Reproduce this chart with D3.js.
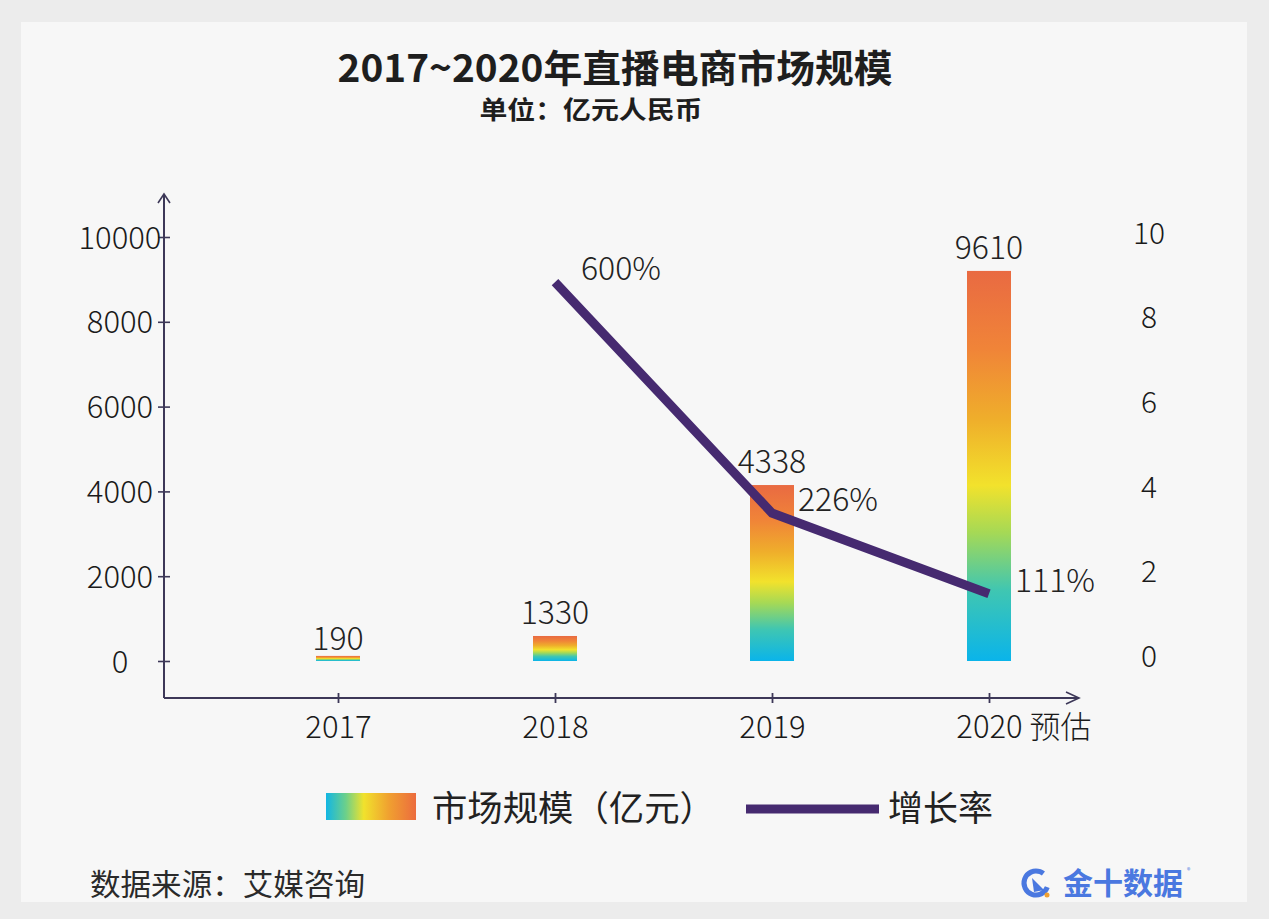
<!DOCTYPE html>
<html>
<head>
<meta charset="utf-8">
<script src="https://cdn.jsdelivr.net/npm/d3@7"></script>
<style>
  html, body { margin: 0; padding: 0; background: #ececec; }
  svg { display: block; }
  text { font-family: "Noto Sans CJK SC", "Noto Sans", sans-serif; }
</style>
</head>
<body>
<svg id="chart" width="1269" height="919"></svg>
<script>
// ---- data ----
const categories = ["2017", "2018", "2019", "2020 预估"];
const marketSizeLabels = ["190", "1330", "4338", "9610"];      // printed values (亿元)
const marketSizeDrawn = [120, 590, 4150, 9200];                  // bar heights as drawn in the picture
const growthLabels = [null, "600%", "226%", "111%"];
const growthDrawn = [null, 8.84, 3.38, 1.47];                    // line points on right axis as drawn
const leftTicks = [0, 2000, 4000, 6000, 8000, 10000];
const rightTicks = [0, 2, 4, 6, 8, 10];
const title = "2017~2020年直播电商市场规模";
const subtitle = "单位：亿元人民币";
const legendLabels = ["市场规模（亿元）", "增长率"];
const sourceText = "数据来源：艾媒咨询";
const logoText = "金十数据";

// ---- setup ----
const svg = d3.select("#chart");
const axisColor = "#3d3858";
const lineColor = "#462a70";
const textColor = "#222";

svg.append("rect").attr("x", 0).attr("y", 0).attr("width", 1269).attr("height", 919).attr("fill", "#ececec");
svg.append("rect").attr("x", 21).attr("y", 22).attr("width", 1226).attr("height", 880).attr("fill", "#f7f7f7");

const defs = svg.append("defs");
const barGrad = defs.append("linearGradient").attr("id", "barGrad")
  .attr("x1", 0).attr("y1", 1).attr("x2", 0).attr("y2", 0);
[["0%", "#0ab4ea"], ["18%", "#3fc6b2"], ["33%", "#a6d955"], ["45%", "#f2e22c"],
 ["62%", "#efae2b"], ["80%", "#f08438"], ["100%", "#e96a42"]].forEach(([o, c]) =>
  barGrad.append("stop").attr("offset", o).attr("stop-color", c));
const legGrad = defs.append("linearGradient").attr("id", "legGrad")
  .attr("x1", 0).attr("y1", 0).attr("x2", 1).attr("y2", 0);
[["0%", "#12b6e4"], ["22%", "#6cd08a"], ["42%", "#f1e22c"], ["70%", "#f0a030"], ["100%", "#ec6c3e"]].forEach(([o, c]) =>
  legGrad.append("stop").attr("offset", o).attr("stop-color", c));

// ---- scales ----
const x = d3.scalePoint().domain(categories).range([338, 989]);
const yL = d3.scaleLinear().domain([0, 10000]).range([661, 237]);
const yR = d3.scaleLinear().domain([0, 10]).range([656, 233]);
const axisX0 = 164, axisY0 = 698;
const barW = 44;

// ---- title ----
svg.append("text").attr("x", 615).attr("y", 82).attr("text-anchor", "middle")
  .attr("font-size", 38).attr("font-weight", 700).attr("fill", "#1e1e1e")
  .attr("textLength", 555).attr("lengthAdjust", "spacingAndGlyphs").text(title);
svg.append("text").attr("x", 591).attr("y", 119).attr("text-anchor", "middle")
  .attr("font-size", 25).attr("font-weight", 700).attr("fill", "#1e1e1e")
  .attr("textLength", 223).attr("lengthAdjust", "spacingAndGlyphs").text(subtitle);

// ---- left axis ----
const gL = svg.append("g").attr("transform", `translate(${axisX0},0)`)
  .call(d3.axisLeft(yL).tickValues(leftTicks).tickSize(6).tickSizeOuter(0).tickFormat(d3.format("d")));
gL.select(".domain").remove();
gL.selectAll(".tick line").attr("x1", -6).attr("x2", 6).attr("stroke", axisColor).attr("stroke-width", 1.6);
gL.selectAll(".tick text").attr("x", -44).attr("text-anchor", "middle").attr("dy", "0.36em")
  .attr("font-size", 31).attr("font-weight", 300).attr("fill", "#1a1a1a")
  .style("font-family", '"Noto Sans CJK SC", "Noto Sans", sans-serif');
svg.append("line").attr("x1", axisX0).attr("x2", axisX0).attr("y1", 194).attr("y2", axisY0)
  .attr("stroke", axisColor).attr("stroke-width", 2);
svg.append("path").attr("d", `M${axisX0 - 6},${203} L${axisX0},${194} L${axisX0 + 6},${203}`)
  .attr("fill", "none").attr("stroke", axisColor).attr("stroke-width", 1.6);

// ---- bottom axis ----
const gB = svg.append("g").attr("transform", `translate(0,${axisY0})`)
  .call(d3.axisBottom(x).tickSize(5).tickSizeOuter(0));
gB.select(".domain").remove();
gB.selectAll(".tick line").attr("y1", -5).attr("y2", 5).attr("stroke", axisColor).attr("stroke-width", 1.8);
gB.selectAll(".tick text").attr("y", 40).attr("dy", 0)
  .attr("font-size", 31).attr("font-weight", 300).attr("fill", "#1a1a1a")
  .style("font-family", '"Noto Sans CJK SC", "Noto Sans", sans-serif')
  .each(function (d) {
    // centre the year part under the tick, let any suffix (预估) run to the right
    const el = d3.select(this);
    const first = String(d).split(" ")[0];
    const probe = el.clone().text(first);
    const w = probe.node().getComputedTextLength();
    probe.remove();
    el.attr("text-anchor", "start").attr("x", -w / 2);
  });
svg.append("line").attr("x1", axisX0).attr("x2", 1079).attr("y1", axisY0).attr("y2", axisY0)
  .attr("stroke", axisColor).attr("stroke-width", 2);
svg.append("path").attr("d", `M1066,${axisY0 - 6} L1079,${axisY0} L1066,${axisY0 + 6}`)
  .attr("fill", "none").attr("stroke", axisColor).attr("stroke-width", 1.6);

// ---- right axis labels ----
svg.append("g").selectAll("text").data(rightTicks).join("text")
  .attr("x", 1149).attr("y", d => yR(d)).attr("dy", "0.36em").attr("text-anchor", "middle")
  .attr("font-size", 30).attr("font-weight", 300).attr("fill", "#1a1a1a").text(d => d);

// ---- bars ----
svg.append("g").selectAll("rect").data(categories).join("rect")
  .attr("x", (d) => x(d) - barW / 2)
  .attr("y", (d, i) => yL(marketSizeDrawn[i]))
  .attr("width", barW)
  .attr("height", (d, i) => yL(0) - yL(marketSizeDrawn[i]))
  .attr("fill", "url(#barGrad)");

svg.append("g").selectAll("text").data(categories).join("text")
  .attr("x", d => x(d))
  .attr("y", (d, i) => yL(marketSizeDrawn[i]) - (i === 0 ? 6 : 12))
  .attr("text-anchor", "middle").attr("font-size", 32).attr("font-weight", 300).attr("fill", textColor)
  .text((d, i) => marketSizeLabels[i]);

// ---- line ----
const linePts = categories.map((c, i) => ({ c, v: growthDrawn[i], label: growthLabels[i] })).filter(d => d.v != null);
svg.append("path").datum(linePts)
  .attr("d", d3.line().x(d => x(d.c)).y(d => yR(d.v)))
  .attr("fill", "none").attr("stroke", lineColor).attr("stroke-width", 9).attr("stroke-linejoin", "miter");

svg.append("g").selectAll("text").data(linePts).join("text")
  .attr("x", d => x(d.c) + 26).attr("y", d => yR(d.v) - 2)
  .attr("font-size", 32).attr("font-weight", 300).attr("fill", textColor)
  .text(d => d.label);

// ---- legend ----
svg.append("rect").attr("x", 326).attr("y", 793).attr("width", 90).attr("height", 27).attr("fill", "url(#legGrad)");
svg.append("text").attr("x", 432).attr("y", 821).attr("font-size", 35).attr("font-weight", 400)
  .attr("fill", textColor).attr("textLength", 283).attr("lengthAdjust", "spacingAndGlyphs").text(legendLabels[0]);
svg.append("line").attr("x1", 746).attr("x2", 879).attr("y1", 809).attr("y2", 809)
  .attr("stroke", lineColor).attr("stroke-width", 9);
svg.append("text").attr("x", 888).attr("y", 821).attr("font-size", 35).attr("font-weight", 400)
  .attr("fill", textColor).text(legendLabels[1]);

// ---- source & logo ----
svg.append("text").attr("x", 90).attr("y", 895).attr("font-size", 30).attr("font-weight", 400)
  .attr("fill", "#2a2a2a").attr("textLength", 275).attr("lengthAdjust", "spacingAndGlyphs").text(sourceText);
const logo = svg.append("g");
logo.append("circle").attr("cx", 1036).attr("cy", 883).attr("r", 12)
  .attr("fill", "none").attr("stroke", "#4a78e0").attr("stroke-width", 5)
  .attr("stroke-dasharray", "60 16").attr("transform", "rotate(20 1036 883)");
logo.append("path").attr("d", "M1032,878 L1044,890 L1034,892 Z").attr("fill", "#4a78e0");
logo.append("circle").attr("cx", 1047).attr("cy", 895).attr("r", 2.5).attr("fill", "#f0a030");
logo.append("text").attr("x", 1063).attr("y", 894).attr("font-size", 30).attr("font-weight", 700)
  .attr("fill", "#4a78e0").attr("textLength", 120).attr("lengthAdjust", "spacingAndGlyphs").text(logoText);
logo.append("text").attr("x", 1187).attr("y", 873).attr("font-size", 7).attr("fill", "#4a78e0").text("®");
</script>
</body>
</html>
